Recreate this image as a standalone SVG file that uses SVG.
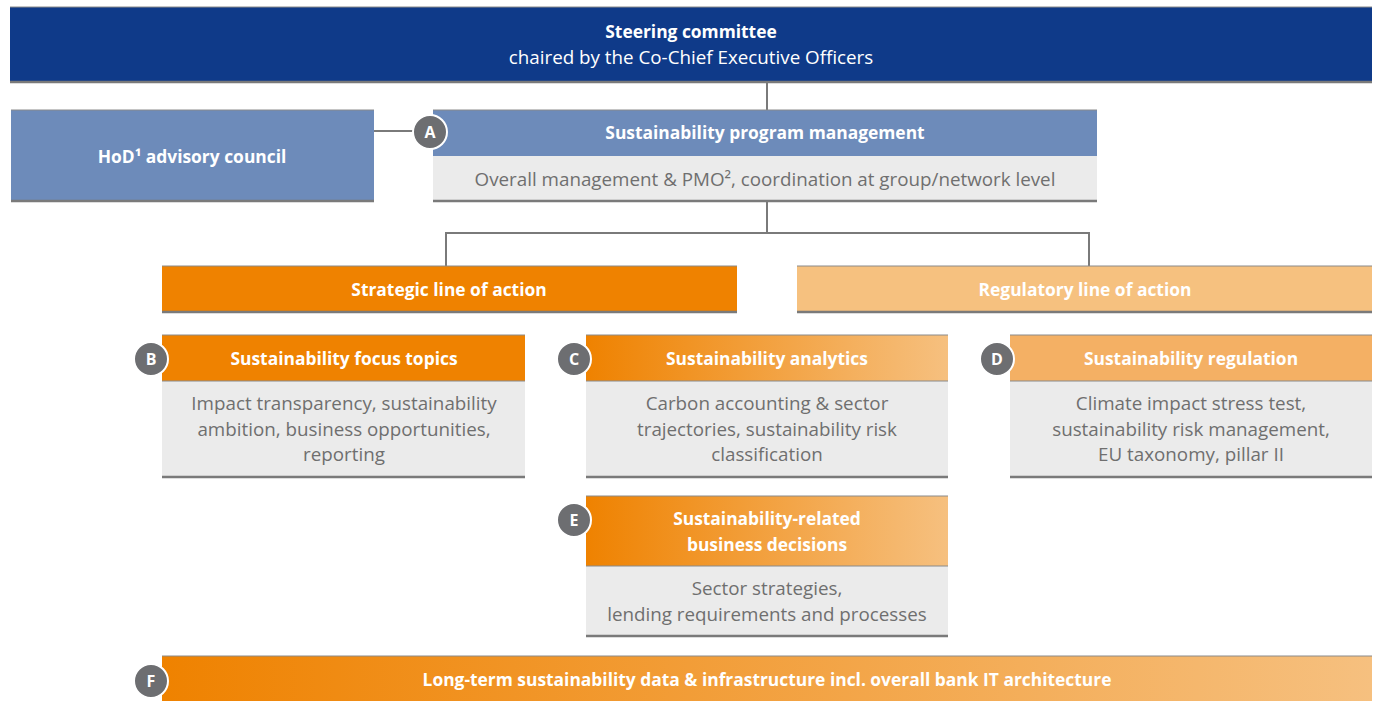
<svg xmlns="http://www.w3.org/2000/svg" width="1377" height="701" viewBox="0 0 1377 701">
<defs>
<linearGradient id="og" x1="0" y1="0" x2="1" y2="0">
<stop offset="0" stop-color="#ef8200"/>
<stop offset="1" stop-color="#f6c07f"/>
</linearGradient>
<style>
text{font-family:"Open Sans","Noto Sans","Liberation Sans",sans-serif;text-anchor:middle}
.t{fill:#fff;font-weight:bold;font-size:17.4px}
.s{fill:#fff;font-size:18.8px}
.b{fill:#6f6f6f;font-size:18.8px}
.body{fill:#ebebeb}
.ln{stroke:#7a7a7a;stroke-width:2;fill:none}
.tl{stroke:#8a8a8a;stroke-width:1}
.bl{stroke:#7a7a7a;stroke-width:2.5}
.c{fill:#6d6e71;stroke:#fff;stroke-width:2}
.cl{fill:#fff;font-weight:bold;font-size:16px}
</style>
</defs>
<g id="connectors">
<path class="ln" d="M767 82V110"/>
<path class="ln" d="M374 131H415"/>
<path class="ln" d="M767 201V233M446 266V233H1089V266"/>
</g>
<g id="steering">
<rect x="10" y="7" width="1362" height="75" fill="#0f3a89"/>
<line class="tl" x1="10" y1="7" x2="1372" y2="7"/>
<line class="bl" x1="10" y1="82" x2="1372" y2="82"/>
<text class="t" x="691" y="38">Steering committee</text>
<text class="s" x="691" y="64">chaired by the Co-Chief Executive Officers</text>
</g>
<g id="hod">
<rect x="11" y="110" width="363" height="91" fill="#6d8bba"/>
<line class="tl" x1="11" y1="110" x2="374" y2="110"/>
<line class="bl" x1="11" y1="201" x2="374" y2="201"/>
<text class="t" x="192" y="163">HoD¹ advisory council</text>
</g>
<g id="nodeA">
<rect x="433" y="110" width="664" height="46" fill="#6d8bba"/>
<rect class="body" x="433" y="156" width="664" height="45"/>
<line class="tl" x1="433" y1="110" x2="1097" y2="110"/>
<line class="bl" x1="433" y1="201" x2="1097" y2="201"/>
<text class="t" x="765" y="139">Sustainability program management</text>
<text class="b" x="765" y="186">Overall management &amp; PMO², coordination at group/network level</text>
<circle class="c" cx="430" cy="132" r="17"/>
<text class="cl" x="430" y="138">A</text>
</g>
<g id="strategic">
<rect x="162" y="266" width="575" height="46" fill="#ef8200"/>
<line class="tl" x1="162" y1="266" x2="737" y2="266"/>
<line class="bl" x1="162" y1="312" x2="737" y2="312"/>
<text class="t" x="449" y="296">Strategic line of action</text>
</g>
<g id="regulatory">
<rect x="797" y="266" width="575" height="46" fill="#f6c17f"/>
<line class="tl" x1="797" y1="266" x2="1372" y2="266"/>
<line class="bl" x1="797" y1="312" x2="1372" y2="312"/>
<text class="t" x="1085" y="296">Regulatory line of action</text>
</g>
<g id="nodeB">
<rect x="162" y="335" width="363" height="46" fill="#ef8200"/>
<rect class="body" x="162" y="381" width="363" height="96"/>
<line class="tl" x1="162" y1="335" x2="525" y2="335"/>
<line class="tl" x1="162" y1="381" x2="525" y2="381"/>
<line class="bl" x1="162" y1="477" x2="525" y2="477"/>
<text class="t" x="344" y="365">Sustainability focus topics</text>
<text class="b" x="344" y="410">Impact transparency, sustainability</text>
<text class="b" x="344" y="436">ambition, business opportunities,</text>
<text class="b" x="344" y="461">reporting</text>
<circle class="c" cx="151" cy="359" r="17"/>
<text class="cl" x="151" y="365">B</text>
</g>
<g id="nodeC">
<rect x="586" y="335" width="362" height="46" fill="url(#og)"/>
<rect class="body" x="586" y="381" width="362" height="96"/>
<line class="tl" x1="586" y1="335" x2="948" y2="335"/>
<line class="tl" x1="586" y1="381" x2="948" y2="381"/>
<line class="bl" x1="586" y1="477" x2="948" y2="477"/>
<text class="t" x="767" y="365">Sustainability analytics</text>
<text class="b" x="767" y="410">Carbon accounting &amp; sector</text>
<text class="b" x="767" y="436">trajectories, sustainability risk</text>
<text class="b" x="767" y="461">classification</text>
<circle class="c" cx="574" cy="359" r="17"/>
<text class="cl" x="574" y="365">C</text>
</g>
<g id="nodeD">
<rect x="1010" y="335" width="362" height="46" fill="#f4b064"/>
<rect class="body" x="1010" y="381" width="362" height="96"/>
<line class="tl" x1="1010" y1="335" x2="1372" y2="335"/>
<line class="tl" x1="1010" y1="381" x2="1372" y2="381"/>
<line class="bl" x1="1010" y1="477" x2="1372" y2="477"/>
<text class="t" x="1191" y="365">Sustainability regulation</text>
<text class="b" x="1191" y="410">Climate impact stress test,</text>
<text class="b" x="1191" y="436">sustainability risk management,</text>
<text class="b" x="1191" y="461">EU taxonomy, pillar II</text>
<circle class="c" cx="997" cy="359" r="17"/>
<text class="cl" x="997" y="365">D</text>
</g>
<g id="nodeE">
<rect x="586" y="496" width="362" height="70" fill="url(#og)"/>
<rect class="body" x="586" y="566" width="362" height="70"/>
<line class="tl" x1="586" y1="496" x2="948" y2="496"/>
<line class="tl" x1="586" y1="566" x2="948" y2="566"/>
<line class="bl" x1="586" y1="636" x2="948" y2="636"/>
<text class="t" x="767" y="525">Sustainability-related</text>
<text class="t" x="767" y="551">business decisions</text>
<text class="b" x="767" y="595">Sector strategies,</text>
<text class="b" x="767" y="621">lending requirements and processes</text>
<circle class="c" cx="574" cy="520" r="17"/>
<text class="cl" x="574" y="526">E</text>
</g>
<g id="nodeF">
<rect x="162" y="656" width="1210" height="45" fill="url(#og)"/>
<line class="tl" x1="162" y1="656" x2="1372" y2="656"/>
<text class="t" x="767" y="686">Long-term sustainability data &amp; infrastructure incl. overall bank IT architecture</text>
<circle class="c" cx="151" cy="681" r="17"/>
<text class="cl" x="151" y="687">F</text>
</g>
</svg>
